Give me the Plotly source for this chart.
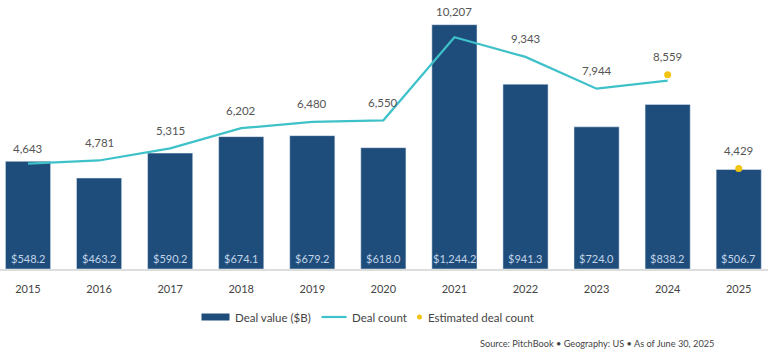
import plotly.graph_objects as go

years = ["2015", "2016", "2017", "2018", "2019", "2020", "2021", "2022", "2023", "2024", "2025"]
deal_value = [548.2, 463.2, 590.2, 674.1, 679.2, 618.0, 1244.2, 941.3, 724.0, 838.2, 506.7]
value_labels = ["$548.2", "$463.2", "$590.2", "$674.1", "$679.2", "$618.0", "$1,244.2", "$941.3", "$724.0", "$838.2", "$506.7"]
line_years = ["2015", "2016", "2017", "2018", "2019", "2020", "2021", "2022", "2023", "2024"]
deal_count = [4643, 4781, 5315, 6202, 6480, 6550, 10207, 9343, 7944, 8300]
est_years = ["2024", "2025"]
est_count = [8559, 4429]
count_labels = ["4,643", "4,781", "5,315", "6,202", "6,480", "6,550", "10,207", "9,343", "7,944", "8,559", "4,429"]
label_counts = [4643, 4781, 5315, 6202, 6480, 6550, 10207, 9343, 7944, 8559, 4429]

BAR = "#1e4d7b"
LINE = "#3ec1c9"
DOT = "#f2c412"
TXT = "#555555"
FONT = "Lato, sans-serif"

Y1MAX = 1370
Y2MAX = 11850
PLOT_H = 269.0

fig = go.Figure()
fig.add_trace(go.Bar(
    x=years, y=deal_value, name="Deal value ($B)", marker_color=BAR, showlegend=False,
))
fig.add_trace(go.Scatter(
    x=line_years, y=deal_count, name="Deal count", mode="lines", showlegend=False,
    line=dict(color=LINE, width=2.2), yaxis="y2",
))
fig.add_trace(go.Scatter(
    x=est_years, y=est_count, name="Estimated deal count", mode="markers", showlegend=False,
    marker=dict(color=DOT, size=7), yaxis="y2",
))

for i, yr in enumerate(years):
    fig.add_annotation(x=i, y=0, yref="y", text=value_labels[i], showarrow=False,
                       yanchor="middle", yshift=11, font=dict(size=11, color="#c3d4e8", family=FONT))
    c = label_counts[i]
    v = deal_value[i]
    if v / Y1MAX > c / Y2MAX:
        fig.add_annotation(x=i, y=v, yref="y", text=count_labels[i], showarrow=False,
                           yanchor="middle", yshift=13, font=dict(size=11.5, color=TXT, family=FONT))
    else:
        fig.add_annotation(x=i, y=c, yref="y2", text=count_labels[i], showarrow=False,
                           yanchor="middle", yshift=18, font=dict(size=11.5, color=TXT, family=FONT))


def px2paper_x(px):
    return px / 768.0


def py2paper_y(py):
    return (PLOT_H - py) / PLOT_H


ly = 317
LEG = dict(size=11.5, color="#444444", family=FONT)
fig.add_shape(type="rect", xref="paper", yref="paper",
              x0=px2paper_x(201.5), x1=px2paper_x(229.5), y0=py2paper_y(ly + 3.5), y1=py2paper_y(ly - 3.5),
              fillcolor=BAR, line=dict(width=0))
fig.add_annotation(xref="paper", yref="paper", x=px2paper_x(232.5), y=py2paper_y(ly), xanchor="left",
                   yanchor="middle", text="Deal value ($B)", showarrow=False, font=LEG)
fig.add_shape(type="line", xref="paper", yref="paper",
              x0=px2paper_x(321.5), x1=px2paper_x(346.5), y0=py2paper_y(ly), y1=py2paper_y(ly),
              line=dict(color=LINE, width=2.2))
fig.add_annotation(xref="paper", yref="paper", x=px2paper_x(349.5), y=py2paper_y(ly), xanchor="left",
                   yanchor="middle", text="Deal count", showarrow=False, font=LEG)
fig.add_shape(type="circle", xref="paper", yref="paper",
              x0=px2paper_x(417), x1=px2paper_x(422), y0=py2paper_y(ly + 2.5), y1=py2paper_y(ly - 2.5),
              fillcolor=DOT, line=dict(width=0))
fig.add_annotation(xref="paper", yref="paper", x=px2paper_x(425.5), y=py2paper_y(ly), xanchor="left",
                   yanchor="middle", text="Estimated deal count", showarrow=False, font=LEG)

fig.add_annotation(xref="paper", yref="paper", x=px2paper_x(716), y=py2paper_y(343), xanchor="right",
                   yanchor="middle",
                   text="Source: PitchBook • Geography: US • As of June 30, 2025", showarrow=False,
                   font=dict(size=9.2, color="#444444", family=FONT))

fig.update_layout(
    width=768, height=352,
    margin=dict(l=0, r=0, t=0, b=352 - PLOT_H),
    paper_bgcolor="white", plot_bgcolor="white",
    bargap=0.365,
    font=dict(family=FONT, color=TXT),
    showlegend=False,
    xaxis=dict(type="category", range=[-0.394, 10.412], showgrid=False, showline=True,
               linecolor="#dddddd", linewidth=1.5, ticks="", ticklabelstandoff=9,
               tickfont=dict(size=11, color="#444444", family=FONT)),
    yaxis=dict(range=[0, Y1MAX], visible=False, showgrid=False),
    yaxis2=dict(range=[0, Y2MAX], overlaying="y", visible=False, showgrid=False),
)

fig.write_html("out.html")
